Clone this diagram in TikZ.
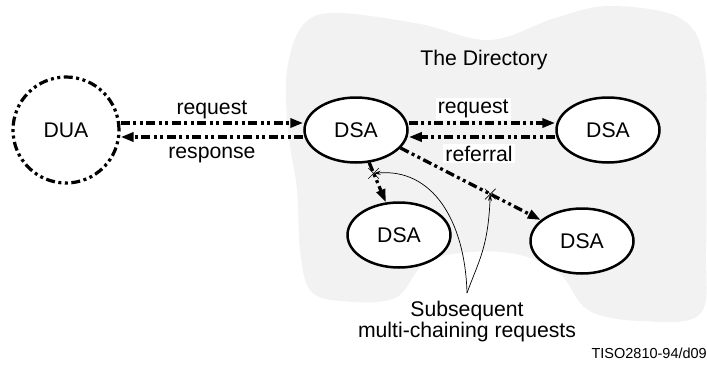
\documentclass[tikz,border=0pt]{standalone}
\usepackage{fontspec}
\setmainfont{Liberation Sans}
\usetikzlibrary{arrows.meta,shapes.geometric,shapes.misc}
\definecolor{DirGray}{HTML}{F2F2F2}
\tikzstyle{dsa} = [ellipse, 
draw=black, 
line width=2.5pt, 
fill=white, 
minimum width=103pt, 
minimum height=65pt, 
inner sep=0pt]
\tikzstyle{dua} = [circle, 
draw=black, 
line width=3.2pt, 
dash pattern=on 9pt off 3.5pt on 3pt off 3.5pt on 3pt off 3.5pt, 
minimum size=106pt, 
inner sep=0pt]
\tikzstyle{chain} = [line width=3.3pt, 
dash pattern=on 9pt off 3.5pt on 3pt off 3.5pt on 3pt off 3.5pt, 
-{Triangle[length=13pt,width=9pt]}]
\tikzstyle{tag} = [fill=white, inner sep=2pt]
\tikzstyle{hit} = [cross out, solid, draw=black, line width=0.6pt, minimum size=10pt, inner sep=0pt]
\tikzstyle{pointer} = [line width=0.7pt, -{Stealth[length=7pt,width=4pt]}]

\begin{document}
\begin{tikzpicture}[x=1pt,y=-1pt,every node/.style={font=\fontsize{21.2}{21}\selectfont}]
                \useasboundingbox (0,0) rectangle (707,365);
                % the directory
                \fill[DirGray] plot[smooth cycle, tension=0.6] coordinates {(337,13) (420,24) (490,40) (555,18) (610,6) (680,18) (704,60) (706,150) (706,250) (700,314) (640,321) (588,310) (560,274) (520,255) (470,252) (425,263) (395,298) (340,301) (310,290) (300,250) (297,190) (288,130) (287,70) (303,25)};
                \node at (484,60) {The Directory};

                \node[dua] (dua) at (66,130) {DUA};
                \node[dsa] (dsa1) at (356,130) {DSA};
                \node[dsa] (dsa2) at (608,130) {DSA};
                \node[dsa] (dsa3) at (399,235) {DSA};
                \node[dsa] (dsa4) at (582,241) {DSA};

                \draw[chain] ([yshift=7pt]dua.east) -- node[above=-1pt] {request} ([yshift=7pt]dsa1.west);
                \draw[chain] ([yshift=-7pt]dsa1.west) -- node[below=5pt] {response} ([yshift=-7pt]dua.east);
                \draw[chain] ([yshift=7pt]dsa1.east) -- node[tag, above=1pt, pos=0.44] {request} ([yshift=7pt]dsa2.west);
                \draw[chain] ([yshift=-7pt]dsa2.west) -- node[tag, below=5pt, pos=0.52] {referral} ([yshift=-7pt]dsa1.east);
                \draw[chain] (dsa1.-68) -- node[hit, pos=0.27] (hitA) {} (dsa3.112);
                \draw[chain] (dsa1.-22) -- node[hit, pos=0.64] (hitB) {} (dsa4.153);

                \node[align=center] (subseq) at (467,322) {Subsequent\\multi-chaining requests};
                \coordinate (fork) at (467,293);
                \draw[pointer] (fork) .. controls (465,220) and (432,168) .. (hitA.center);
                \draw[pointer] (fork) .. controls (479,260) and (488,248) .. (hitB.center);

                \node[anchor=east, font=\fontsize{14.5}{17}\selectfont, inner sep=0pt] (fig) at (707,353) {TISO2810-94/d09};
            \end{tikzpicture}
\end{document}
